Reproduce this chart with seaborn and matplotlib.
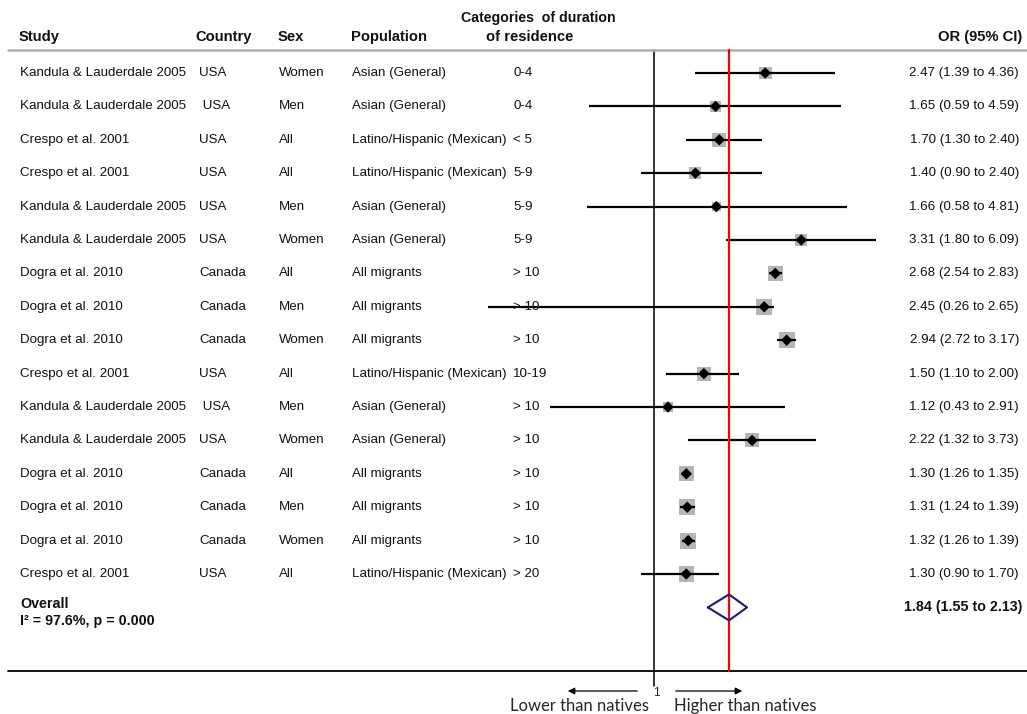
import numpy as np
import pandas as pd
import seaborn as sns
import matplotlib
matplotlib.use("Agg")
import matplotlib.pyplot as plt
import matplotlib.transforms as mtransforms

# ---- data -------------------------------------------------------------
studies = [
    "Kandula & Lauderdale 2005", "Kandula & Lauderdale 2005", "Crespo et al. 2001",
    "Crespo et al. 2001", "Kandula & Lauderdale 2005", "Kandula & Lauderdale 2005",
    "Dogra et al. 2010", "Dogra et al. 2010", "Dogra et al. 2010", "Crespo et al. 2001",
    "Kandula & Lauderdale 2005", "Kandula & Lauderdale 2005", "Dogra et al. 2010",
    "Dogra et al. 2010", "Dogra et al. 2010", "Crespo et al. 2001",
]
countries = ["USA", " USA", "USA", "USA", "USA", "USA", "Canada", "Canada", "Canada",
             "USA", " USA", "USA", "Canada", "Canada", "Canada", "USA"]
sexes = ["Women", "Men", "All", "All", "Men", "Women", "All", "Men", "Women",
         "All", "Men", "Women", "All", "Men", "Women", "All"]
populations = ["Asian (General)", "Asian (General)", "Latino/Hispanic (Mexican)",
               "Latino/Hispanic (Mexican)", "Asian (General)", "Asian (General)",
               "All migrants", "All migrants", "All migrants", "Latino/Hispanic (Mexican)",
               "Asian (General)", "Asian (General)", "All migrants", "All migrants",
               "All migrants", "Latino/Hispanic (Mexican)"]
durations = ["0-4", "0-4", "< 5", "5-9", "5-9", "5-9", "> 10", "> 10", "> 10",
             "10-19", "> 10", "> 10", "> 10", "> 10", "> 10", "> 20"]
odds_ratio = [2.47, 1.65, 1.70, 1.40, 1.66, 3.31, 2.68, 2.45, 2.94, 1.50, 1.12, 2.22,
              1.30, 1.31, 1.32, 1.30]
ci_low = [1.39, 0.59, 1.30, 0.90, 0.58, 1.80, 2.54, 0.26, 2.72, 1.10, 0.43, 1.32,
          1.26, 1.24, 1.26, 0.90]
ci_high = [4.36, 4.59, 2.40, 2.40, 4.81, 6.09, 2.83, 2.65, 3.17, 2.00, 2.91, 3.73,
           1.35, 1.39, 1.39, 1.70]
weights = [5.5, 4.0, 6.4, 4.7, 2.7, 4.7, 7.4, 8.4, 8.4, 6.4, 3.3, 6.4, 7.4, 8.4, 8.4, 7.4]

overall_or, overall_low, overall_high = 1.84, 1.55, 2.13
heterogeneity = "I\u00b2 = 97.6%, p = 0.000"

# ---- layout helpers --------------------------------------------------
W, H = 1027, 714
ROW0, ROWH = 73.0, 33.4          # pixel centre of first row, row pitch
PX_PER_LN = 123.0                # horizontal pixels per natural-log unit
X_NULL = 654.0                   # pixel column of OR = 1


def ypx(p):
    return (p - ROW0) / ROWH


def xf(p):
    return p / W


sns.set_theme(style="white")
plt.rcParams["font.family"] = ["Liberation Sans", "DejaVu Sans"]

fig = plt.figure(figsize=(W / 100, H / 100), dpi=100)
ax = fig.add_axes([0, 0, 1, 1])
ax.set_xscale("log")
ax.set_xlim(np.exp(-X_NULL / PX_PER_LN), np.exp((W - X_NULL) / PX_PER_LN))
ax.set_ylim(ypx(H), ypx(0))
ax.axis("off")
tr = mtransforms.blended_transform_factory(ax.transAxes, ax.transData)

n = len(studies)
df = pd.DataFrame({
    "row": np.arange(n), "or": odds_ratio, "lo": ci_low, "hi": ci_high, "w": weights,
})
df["side_pt"] = np.sqrt(df["w"] * 30.46) * 0.72
df["area"] = df["side_pt"] ** 2

# reference lines
ax.plot([1, 1], [ypx(50), ypx(686)], color="black", lw=1.1, zorder=1)
ax.plot([overall_or, overall_or], [ypx(50), ypx(671)], color="#ff0000", lw=1.6, zorder=4)

# study weights as grey squares
sns.scatterplot(data=df, x="or", y="row", size="area", sizes=(df["area"].min(), df["area"].max()),
                marker="s", color="#b5b5b5", edgecolor="none", legend=False, ax=ax, zorder=2)
# confidence intervals
ax.hlines(df["row"], df["lo"], df["hi"], color="black", lw=1.6, zorder=3)
# point estimates
sns.scatterplot(data=df, x="or", y="row", marker="D", color="black", s=34,
                edgecolor="none", legend=False, ax=ax, zorder=5)

# pooled estimate diamond
yo = n
dh = 13 / ROWH
ax.plot([overall_low, overall_or, overall_high, overall_or, overall_low],
        [yo, yo - dh, yo, yo + dh, yo], color="#1a1a7a", lw=1.5, zorder=6)

# header
hdr = dict(fontsize=10.6, fontweight="bold", va="center", transform=tr, color="#111111")
yh = ypx(37)
ax.text(xf(19), yh, "Study", ha="left", **hdr)
ax.text(xf(195), yh, "Country", ha="left", **hdr)
ax.text(xf(278), yh, "Sex", ha="left", **hdr)
ax.text(xf(351), yh, "Population", ha="left", **hdr)
ax.text(xf(538), ypx(18), "Categories  of duration", ha="center", fontsize=10.2,
        fontweight="bold", va="center", transform=tr, color="#111111")
ax.text(xf(530), yh, "of residence", ha="center", **hdr)
ax.text(xf(1022), yh, "OR (95% CI)", ha="right", **hdr)
ax.plot([xf(8), xf(1027)], [ypx(50), ypx(50)], color="#b0b0b0", lw=1.8, transform=tr,
        clip_on=False)

# study rows
body = dict(fontsize=9.6, va="center", transform=tr, color="#111111")
for i in range(n):
    ax.text(xf(20), i, studies[i], ha="left", **body)
    ax.text(xf(199), i, countries[i], ha="left", **body)
    ax.text(xf(279), i, sexes[i], ha="left", **body)
    ax.text(xf(352), i, populations[i], ha="left", zorder=7, **body)
    ax.text(xf(513), i, durations[i], ha="left", zorder=7, **body)
    ax.text(xf(1019), i, f"{odds_ratio[i]:.2f} ({ci_low[i]:.2f} to {ci_high[i]:.2f})",
            ha="right", **body)

# overall row
bold = dict(fontsize=10.3, fontweight="bold", va="center", transform=tr, color="#111111")
ax.text(xf(20), ypx(604), "Overall", ha="left", **bold)
ax.text(xf(20), ypx(621), heterogeneity, ha="left", **bold)
ax.text(xf(1022), yo, f"{overall_or:.2f} ({overall_low:.2f} to {overall_high:.2f})",
        ha="right", **bold)

# bottom rule and direction arrows
ax.plot([xf(8), xf(1027)], [ypx(671), ypx(671)], color="black", lw=1.3, transform=tr,
        clip_on=False)
ya = ypx(691)
ax.annotate("", xy=(xf(565), ya), xytext=(xf(640), ya), xycoords=tr, textcoords=tr,
            arrowprops=dict(arrowstyle="-|>", color="black", lw=0.9, mutation_scale=10))
ax.annotate("", xy=(xf(745), ya), xytext=(xf(673), ya), xycoords=tr, textcoords=tr,
            arrowprops=dict(arrowstyle="-|>", color="black", lw=0.9, mutation_scale=10))
ax.text(xf(656), ypx(693), "1", ha="center", va="center", fontsize=8.5, transform=tr)
lab = dict(fontsize=12, va="center", transform=tr, family=["Lato", "DejaVu Sans"])
ax.text(xf(580), ypx(706), "Lower than natives", ha="center", **lab)
ax.text(xf(745), ypx(706), "Higher than natives", ha="center", **lab)

fig.savefig("out.png", dpi=100)
